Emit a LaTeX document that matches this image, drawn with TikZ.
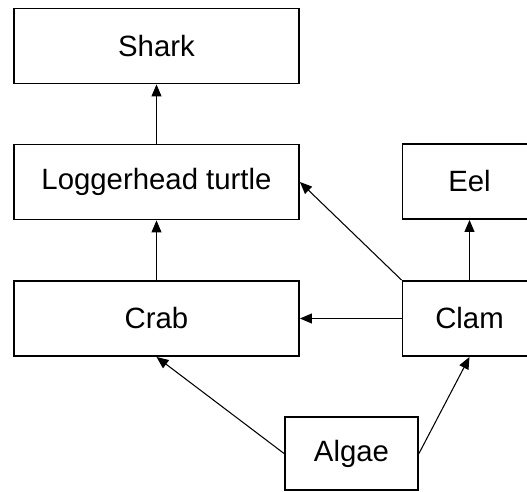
\documentclass[tikz,border=0pt]{standalone}
\usepackage{fontspec}
\setmainfont{Liberation Sans}
\usepackage{tikz}
\usetikzlibrary{arrows.meta, positioning}

\tikzset{
  species/.style={draw, line width=1.1pt, minimum width=5.7cm, minimum height=1.5cm,
    inner sep=0pt, font=\fontsize{16.7}{20}\selectfont},
  eats/.style={line width=0.6pt, -{Triangle[length=0.24cm, width=0.2cm]}}
}

\begin{document}
\begin{tikzpicture}[x=0.02cm, y=-0.02cm]
  \useasboundingbox (0,0) rectangle (527,492);

  % Food web boxes
  \node[species] (shark) at (156.5, 46) {Shark};
  \node[species] (turtle) at (156.5, 182) {Loggerhead turtle};
  \node[species, minimum width=2.68cm] (eel) at (469.5, 181.5) {Eel};
  \node[species] (crab) at (156.5, 318.5) {Crab};
  \node[species, minimum width=2.68cm] (clam) at (469.5, 318.5) {Clam};
  \node[species, minimum width=2.66cm, minimum height=1.46cm] (algae) at (351.5, 453.5) {Algae};

  % Who eats whom
  \draw[eats] (turtle) -- (shark);
  \draw[eats] (crab) -- (turtle);
  \draw[eats] (clam.north west) -- (turtle.east);
  \draw[eats] (clam) -- (eel);
  \draw[eats] (clam) -- (crab);
  \draw[eats] (algae.west) -- (crab.south);
  \draw[eats] (algae.east) -- (clam.south);
\end{tikzpicture}
\end{document}
